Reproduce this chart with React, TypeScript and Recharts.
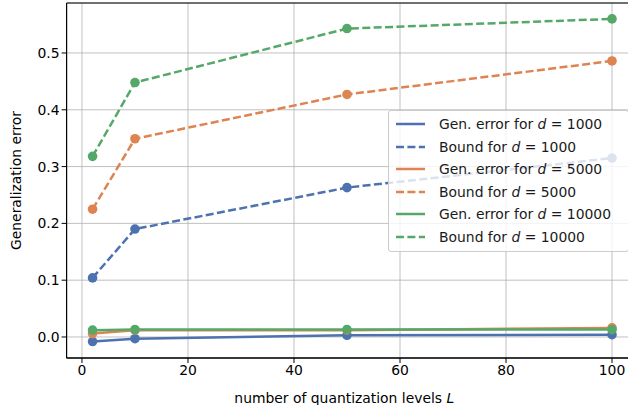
import {
  LineChart,
  Line,
  XAxis,
  YAxis,
  CartesianGrid,
  ReferenceArea,
} from "recharts";

const levels = [2, 10, 50, 100];
const genError1000 = [-0.008, -0.003, 0.003, 0.004];
const bound1000 = [0.104, 0.19, 0.263, 0.315];
const genError5000 = [0.006, 0.012, 0.012, 0.016];
const bound5000 = [0.225, 0.349, 0.427, 0.486];
const genError10000 = [0.012, 0.013, 0.013, 0.013];
const bound10000 = [0.318, 0.448, 0.543, 0.56];

const xTicks = [0, 20, 40, 60, 80, 100];
const yTicks = [0, 0.1, 0.2, 0.3, 0.4, 0.5];

const FONT = "DejaVu Sans, sans-serif";
const FONT_SIZE = 13.9;
const BLUE = "#4C72B0";
const ORANGE = "#DD8452";
const GREEN = "#55A868";
const LW = 2.5;
const DASH = "8 3.4";

const data = levels.map((L, i) => ({
  L,
  g1000: genError1000[i],
  b1000: bound1000[i],
  g5000: genError5000[i],
  b5000: bound5000[i],
  g10000: genError10000[i],
  b10000: bound10000[i],
}));

const series = [
  { key: "g1000", color: BLUE, dashed: false, label: "Gen. error for ", d: "1000" },
  { key: "b1000", color: BLUE, dashed: true, label: "Bound for ", d: "1000" },
  { key: "g5000", color: ORANGE, dashed: false, label: "Gen. error for ", d: "5000" },
  { key: "b5000", color: ORANGE, dashed: true, label: "Bound for ", d: "5000" },
  { key: "g10000", color: GREEN, dashed: false, label: "Gen. error for ", d: "10000" },
  { key: "b10000", color: GREEN, dashed: true, label: "Bound for ", d: "10000" },
];

function LegendBox() {
  return (
    <div
      style={{
        position: "absolute",
        left: 388,
        top: 110,
        width: 234,
        background: "rgba(255,255,255,0.8)",
        border: "1px solid #cccccc",
        borderRadius: 3,
        padding: "2px 0 3px 5px",
        fontFamily: FONT,
        fontSize: FONT_SIZE,
        color: "#1a1a1a",
      }}
    >
      {series.map((s) => (
        <div key={s.key} style={{ display: "flex", alignItems: "center", height: 22.5 }}>
          <svg width={34} height={10} style={{ marginRight: 11, flexShrink: 0 }}>
            <line
              x1={2}
              x2={31}
              y1={5}
              y2={5}
              stroke={s.color}
              strokeWidth={LW}
              strokeDasharray={s.dashed ? DASH : undefined}
            />
          </svg>
          <span style={{ whiteSpace: "nowrap" }}>
            {s.label}
            <i>d</i> = {s.d}
          </span>
        </div>
      ))}
    </div>
  );
}

export default function App() {
  return (
    <div
      style={{
        position: "absolute",
        left: 0,
        top: 0,
        width: 628,
        height: 405,
        overflow: "hidden",
        background: "#fff",
      }}
    >
      <LineChart
        width={645}
        height={405}
        data={data}
        margin={{ top: 3, right: 7, bottom: 17, left: 0 }}
      >
        <CartesianGrid stroke="#b0b0b0" strokeWidth={0.8} />
        <ReferenceArea
          x1={-2.9}
          x2={104.9}
          y1={-0.037}
          y2={0.588}
          fill="none"
          stroke="#000"
          strokeWidth={1}
          ifOverflow="visible"
        />
        <XAxis
          dataKey="L"
          type="number"
          domain={[-2.9, 104.9]}
          ticks={xTicks}
          allowDataOverflow
          height={30}
          stroke="#000"
          tickSize={5}
          tick={{ fontSize: FONT_SIZE, fontFamily: FONT, fill: "#000" }}
          label={(props: any) => {
            const vb = props.viewBox;
            return (
              <text
                x={vb.x + vb.width / 2 - 8}
                y={vb.y + 45}
                textAnchor="middle"
                fontSize={FONT_SIZE}
                fontFamily={FONT}
                fill="#000"
              >
                number of quantization levels <tspan fontStyle="italic">L</tspan>
              </text>
            );
          }}
        />
        <YAxis
          type="number"
          domain={[-0.037, 0.588]}
          ticks={yTicks}
          allowDataOverflow
          width={66.6}
          stroke="#000"
          tickSize={5}
          tickFormatter={(v: number) => v.toFixed(1)}
          tick={{ fontSize: FONT_SIZE, fontFamily: FONT, fill: "#000" }}
          label={{
            value: "Generalization error",
            angle: -90,
            position: "insideLeft",
            offset: 16,
            style: { fontSize: FONT_SIZE, fontFamily: FONT, fill: "#000", textAnchor: "middle" },
          }}
        />
        {series.map((s) => (
          <Line
            key={s.key}
            dataKey={s.key}
            type="linear"
            stroke={s.color}
            strokeWidth={LW}
            strokeDasharray={s.dashed ? DASH : undefined}
            dot={{ r: 4.8, fill: s.color, stroke: s.color, strokeWidth: 0 }}
            activeDot={false}
            isAnimationActive={false}
          />
        ))}
      </LineChart>
      <LegendBox />
    </div>
  );
}
